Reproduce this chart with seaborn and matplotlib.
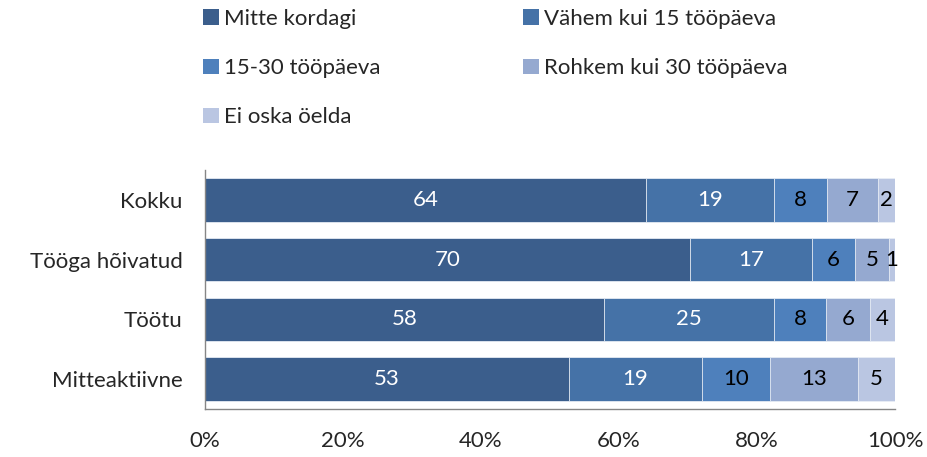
import numpy as np
import pandas as pd
import matplotlib
matplotlib.use("Agg")
import matplotlib.pyplot as plt
import seaborn as sns
from matplotlib.patches import Patch

groups = ["Kokku", "Tööga hõivatud", "Töötu", "Mitteaktiivne"]
series = ["Mitte kordagi", "Vähem kui 15 tööpäeva", "15-30 tööpäeva",
          "Rohkem kui 30 tööpäeva", "Ei oska öelda"]
mitte_kordagi = [63.9, 70.3, 57.8, 52.8]
vahem_15 = [18.6, 17.6, 24.7, 19.2]
paeva_15_30 = [7.6, 6.3, 7.5, 9.9]
rohkem_30 = [7.4, 4.9, 6.4, 12.7]
ei_oska = [2.5, 0.9, 3.6, 5.4]
shown = [[64, 70, 58, 53], [19, 17, 25, 19], [8, 6, 8, 10], [7, 5, 6, 13], [2, 1, 4, 5]]

colors = ["#3B5E8C", "#4572A7", "#4E80BC", "#95A9D0", "#BAC6E2"]
text_colors = ["white", "white", "black", "black", "black"]
fs = 16

sns.set_style("white")
plt.rcParams["font.family"] = ["Lato", "DejaVu Sans"]

vals = np.array([mitte_kordagi, vahem_15, paeva_15_30, rohkem_30, ei_oska])
cum = vals.cumsum(axis=0)

fig = plt.figure(figsize=(9.28, 4.57), dpi=100)
ax = fig.add_axes([205 / 928, 1 - 409 / 457, 690 / 928, 239 / 457])

# stacked bars: draw cumulative totals from the back
for i in range(len(series) - 1, -1, -1):
    df = pd.DataFrame({"grupp": groups, "v": cum[i]})
    sns.barplot(data=df, x="v", y="grupp", orient="h", color=colors[i],
                width=0.73, edgecolor="#e8edf5", linewidth=0.6, ax=ax,
                saturation=1)

for i in range(len(series)):
    for j in range(len(groups)):
        ax.text(cum[i, j] - vals[i, j] / 2, j, str(shown[i][j]),
                ha="center", va="center", fontsize=fs, color=text_colors[i])

ax.set_xlim(0, 100)
ax.set_ylim(3.5, -0.5)
ax.set_xlabel("")
ax.set_ylabel("")
ax.set_xticks(np.arange(0, 101, 20))
ax.set_xticklabels([f"{t}%" for t in range(0, 101, 20)], fontsize=fs)
ax.set_yticks(np.arange(-0.5, 4, 1))
ax.set_yticklabels([])
ax.set_yticks(np.arange(4), minor=True)
ax.set_yticklabels(groups, minor=True, fontsize=fs)
ax.tick_params(axis="y", which="minor", length=0, pad=16)
ax.tick_params(axis="y", which="major", length=6, color="#868686", direction="out")
ax.tick_params(axis="x", length=6, color="#868686", direction="out", pad=10)
sns.despine(ax=ax, top=True, right=True)
for s in ["left", "bottom"]:
    ax.spines[s].set_color("#868686")
    ax.spines[s].set_linewidth(1)

handles = [Patch(facecolor=c, edgecolor="none") for c in colors]
order = [0, 2, 4, 1, 3]
fig.legend([handles[k] for k in order], [series[k] for k in order],
           loc="upper left", bbox_to_anchor=(190 / 928, 1.01), ncol=2,
           frameon=False, fontsize=fs, handlelength=0.7, handleheight=0.7,
           handletextpad=0.25, labelspacing=1.32, columnspacing=6.4,
           borderaxespad=0.2)

fig.savefig("out.png", dpi=100)
